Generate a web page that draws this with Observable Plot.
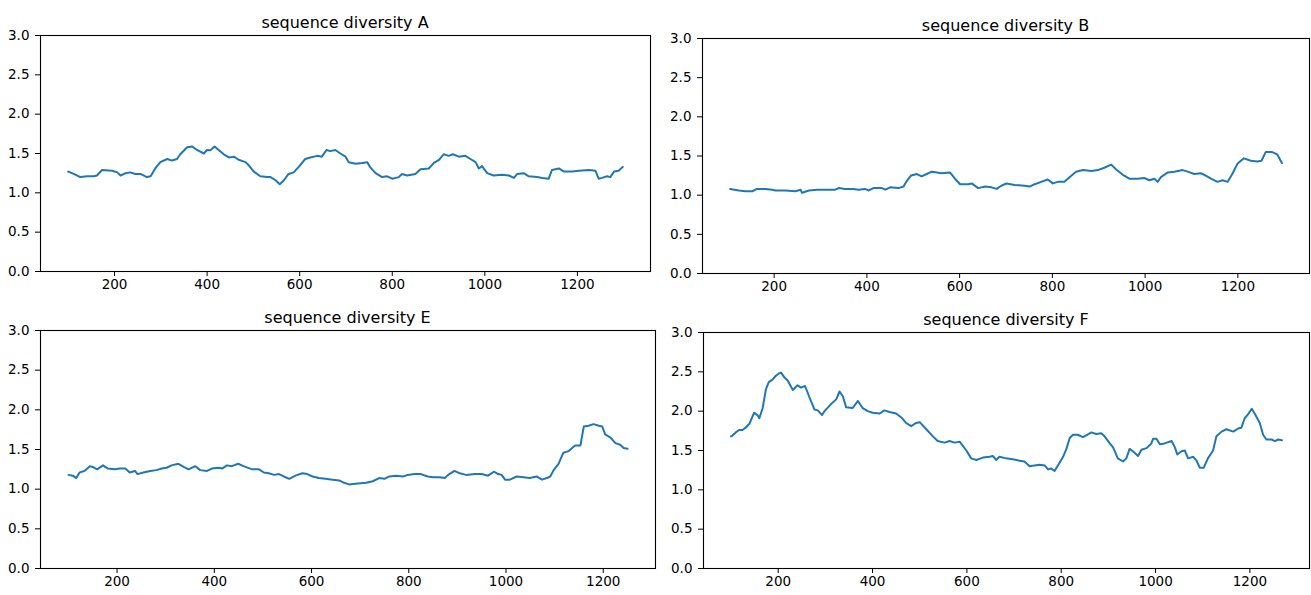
<!DOCTYPE html>
<html>
<head>
<meta charset="utf-8">
<script src="https://cdn.jsdelivr.net/npm/d3@7"></script>
<script src="https://cdn.jsdelivr.net/npm/@observablehq/plot@0.6"></script>
<style>
  html, body { margin: 0; padding: 0; background: #fff; }
  #root { position: relative; width: 1311px; height: 595px; overflow: hidden; background: #fff; font-family: "DejaVu Sans", sans-serif; }
  .panel { position: absolute; }
  .title { position: absolute; transform: translate(-50%, -50%); font-size: 16px; color: #000; white-space: nowrap; }
</style>
</head>
<body>
<div id="root"></div>
<script>
// ---- data ----
const titles = ["sequence diversity A", "sequence diversity B", "sequence diversity E", "sequence diversity F"];
const xTicks = [200, 400, 600, 800, 1000, 1200];
const yTicks = [0, 0.5, 1.0, 1.5, 2.0, 2.5, 3.0];

const seriesA = [[100,1.27],[112,1.24],[126,1.20],[141,1.21],[155,1.21],[162,1.22],[173,1.29],[195,1.28],[206,1.26],[213,1.22],[224,1.25],[234,1.26],[245,1.24],[256,1.24],[270,1.20],[278,1.21],[288,1.31],[299,1.39],[314,1.43],[324,1.41],[335,1.43],[342,1.49],[357,1.58],[368,1.59],[378,1.545],[393,1.50],[400,1.545],[407,1.54],[416,1.59],[425,1.545],[436,1.49],[447,1.45],[458,1.46],[468,1.42],[483,1.39],[490,1.35],[501,1.27],[515,1.21],[530,1.20],[537,1.20],[548,1.16],[557,1.11],[566,1.16],[576,1.24],[587,1.26],[598,1.33],[612,1.43],[623,1.45],[638,1.47],[648,1.46],[658,1.545],[666,1.53],[677,1.545],[688,1.50],[699,1.46],[706,1.39],[721,1.37],[735,1.38],[746,1.39],[753,1.32],[764,1.25],[778,1.20],[789,1.21],[800,1.18],[814,1.20],[821,1.24],[832,1.22],[850,1.24],[861,1.30],[879,1.31],[890,1.38],[901,1.42],[911,1.49],[922,1.47],[931,1.49],[944,1.46],[958,1.47],[969,1.43],[980,1.39],[987,1.31],[994,1.34],[1005,1.25],[1019,1.22],[1037,1.23],[1052,1.22],[1063,1.19],[1070,1.24],[1084,1.25],[1095,1.21],[1113,1.20],[1124,1.19],[1138,1.18],[1145,1.29],[1160,1.31],[1171,1.27],[1189,1.27],[1203,1.28],[1225,1.29],[1239,1.28],[1246,1.18],[1253,1.19],[1264,1.21],[1271,1.20],[1279,1.27],[1289,1.28],[1298,1.33]];

const seriesB = [[105,1.08],[124,1.06],[138,1.05],[153,1.05],[163,1.08],[181,1.08],[196,1.07],[203,1.06],[224,1.06],[246,1.05],[257,1.07],[260,1.03],[275,1.06],[293,1.07],[310,1.07],[332,1.07],[339,1.09],[353,1.08],[371,1.08],[382,1.07],[396,1.08],[404,1.06],[414,1.09],[432,1.09],[440,1.07],[450,1.10],[468,1.09],[479,1.11],[486,1.18],[495,1.25],[508,1.27],[518,1.24],[529,1.27],[540,1.30],[551,1.29],[561,1.28],[579,1.29],[590,1.21],[601,1.14],[619,1.14],[626,1.15],[640,1.09],[655,1.11],[669,1.10],[680,1.08],[690,1.12],[701,1.15],[719,1.13],[740,1.12],[751,1.11],[762,1.14],[776,1.17],[790,1.20],[801,1.15],[812,1.17],[826,1.17],[837,1.23],[851,1.30],[866,1.32],[884,1.31],[898,1.32],[912,1.35],[927,1.39],[937,1.33],[952,1.26],[966,1.21],[984,1.21],[998,1.22],[1009,1.19],[1020,1.21],[1027,1.17],[1034,1.23],[1049,1.29],[1063,1.30],[1081,1.32],[1092,1.30],[1106,1.27],[1120,1.28],[1131,1.25],[1142,1.21],[1156,1.17],[1167,1.19],[1178,1.17],[1188,1.27],[1199,1.40],[1213,1.47],[1228,1.44],[1242,1.43],[1251,1.44],[1260,1.55],[1274,1.55],[1285,1.52],[1295,1.41]];

const seriesE = [[100,1.18],[109,1.17],[116,1.14],[123,1.21],[133,1.23],[144,1.29],[150,1.28],[159,1.25],[171,1.30],[181,1.26],[195,1.25],[206,1.26],[217,1.26],[226,1.21],[237,1.23],[242,1.19],[254,1.21],[268,1.23],[281,1.24],[292,1.26],[302,1.27],[312,1.30],[326,1.32],[337,1.28],[347,1.25],[361,1.29],[371,1.24],[385,1.23],[395,1.26],[409,1.27],[416,1.26],[426,1.30],[436,1.29],[449,1.32],[460,1.29],[478,1.25],[492,1.25],[502,1.21],[512,1.20],[523,1.18],[533,1.19],[543,1.16],[554,1.13],[567,1.17],[581,1.20],[591,1.19],[602,1.16],[615,1.14],[629,1.13],[643,1.12],[657,1.11],[667,1.08],[677,1.06],[695,1.07],[712,1.08],[726,1.10],[739,1.14],[750,1.13],[760,1.16],[774,1.17],[788,1.16],[798,1.18],[812,1.19],[825,1.19],[839,1.16],[850,1.15],[863,1.15],[874,1.14],[881,1.18],[894,1.23],[905,1.20],[918,1.18],[936,1.19],[950,1.19],[963,1.17],[975,1.22],[984,1.19],[991,1.18],[998,1.12],[1008,1.12],[1022,1.16],[1036,1.15],[1049,1.14],[1063,1.16],[1074,1.12],[1084,1.14],[1091,1.16],[1098,1.24],[1108,1.32],[1118,1.46],[1129,1.48],[1142,1.55],[1153,1.55],[1160,1.79],[1170,1.80],[1180,1.82],[1191,1.80],[1198,1.79],[1204,1.69],[1215,1.65],[1225,1.58],[1235,1.56],[1242,1.52],[1250,1.51]];

const seriesF = [[100,1.68],[103,1.69],[110,1.73],[117,1.76],[124,1.76],[131,1.79],[139,1.84],[146,1.94],[149,1.98],[156,1.95],[160,1.91],[167,2.04],[174,2.28],[180,2.37],[188,2.40],[195,2.45],[202,2.48],[206,2.49],[213,2.43],[220,2.39],[231,2.27],[241,2.33],[248,2.30],[257,2.32],[266,2.18],[277,2.02],[284,2.01],[293,1.95],[298,2.00],[312,2.09],[323,2.15],[330,2.25],[337,2.19],[344,2.05],[358,2.04],[369,2.13],[379,2.04],[390,2.00],[400,1.98],[415,1.97],[425,2.01],[436,1.99],[450,1.97],[461,1.92],[471,1.85],[482,1.81],[492,1.85],[500,1.86],[514,1.77],[528,1.68],[538,1.62],[553,1.60],[563,1.62],[574,1.60],[585,1.61],[599,1.50],[609,1.40],[620,1.38],[634,1.41],[648,1.42],[655,1.43],[662,1.38],[669,1.42],[683,1.40],[697,1.39],[712,1.37],[722,1.36],[733,1.30],[743,1.31],[754,1.32],[765,1.31],[772,1.26],[779,1.27],[786,1.24],[793,1.31],[804,1.42],[811,1.52],[818,1.66],[825,1.70],[835,1.70],[846,1.67],[855,1.70],[864,1.73],[874,1.71],[885,1.72],[892,1.68],[903,1.59],[910,1.54],[920,1.40],[931,1.36],[938,1.40],[945,1.52],[952,1.49],[963,1.43],[970,1.51],[981,1.53],[991,1.59],[995,1.65],[1002,1.65],[1009,1.58],[1019,1.59],[1034,1.62],[1041,1.54],[1046,1.45],[1055,1.49],[1062,1.50],[1069,1.40],[1080,1.42],[1087,1.37],[1094,1.28],[1102,1.28],[1111,1.40],[1122,1.50],[1129,1.68],[1140,1.74],[1150,1.77],[1165,1.74],[1175,1.78],[1182,1.79],[1189,1.91],[1196,1.96],[1204,2.03],[1211,1.96],[1221,1.85],[1228,1.70],[1235,1.64],[1246,1.64],[1253,1.62],[1260,1.64],[1268,1.63]];

// ---- layout (frame box of each panel, in page pixels) ----
const layout = [
  {series: seriesA, L: 40,  R: 650,  T: 35,  B: 271},
  {series: seriesB, L: 702, R: 1309, T: 38,  B: 273},
  {series: seriesE, L: 40,  R: 655,  T: 330, B: 568},
  {series: seriesF, L: 703, R: 1309, T: 332, B: 568}
];

const mL = 45, mR = 2, mT = 2, mB = 26;
const root = document.getElementById("root");

layout.forEach((p, i) => {
  const data = p.series.map(([x, y]) => ({x, y}));
  const [x0, x1] = d3.extent(data, d => d.x);
  const pad = (x1 - x0) * 0.05;
  const chart = Plot.plot({
    width: p.R - p.L + mL + mR,
    height: p.B - p.T + mT + mB,
    marginLeft: mL, marginRight: mR, marginTop: mT, marginBottom: mB,
    style: {fontFamily: "DejaVu Sans, sans-serif", fontSize: "13.5px", color: "#000", background: "#fff", overflow: "visible"},
    x: {domain: [x0 - pad, x1 + pad], label: null},
    y: {domain: [0, 3], label: null},
    marks: [
      Plot.axisX(xTicks, {tickSize: 5, tickPadding: 3, fontSize: 13.5, tickFormat: d => String(d)}),
      Plot.axisY(yTicks, {tickSize: 5, tickPadding: 6, fontSize: 13.5, tickFormat: d => d.toFixed(1)}),
      Plot.line(data, {x: "x", y: "y", stroke: "#1f77b4", strokeWidth: 2, strokeLinejoin: "round"}),
      Plot.frame({stroke: "#000", strokeWidth: 1.1})
    ]
  });
  const wrap = document.createElement("div");
  wrap.className = "panel";
  wrap.style.left = (p.L - mL) + "px";
  wrap.style.top = (p.T - mT) + "px";
  wrap.appendChild(chart);
  root.appendChild(wrap);

  const t = document.createElement("div");
  t.className = "title";
  t.textContent = titles[i];
  t.style.left = ((p.L + p.R) / 2) + "px";
  t.style.top = (p.T - 13) + "px";
  root.appendChild(t);
});
</script>
</body>
</html>
